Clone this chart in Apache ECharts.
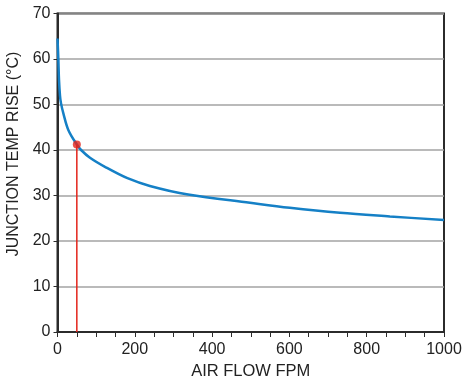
<!DOCTYPE html>
<html>
<head>
<meta charset="utf-8">
<script src="https://cdn.jsdelivr.net/npm/echarts@6/dist/echarts.min.js"></script>
<style>html,body{margin:0;padding:0;background:#fff}#c{width:467px;height:385px}</style>
</head>
<body>
<div id="c"></div>
<script>
// Data
const airFlow = [0, 2.2, 3.9, 6.5, 9, 15, 28, 50, 61, 84, 125, 181, 239, 338, 498, 601, 731, 860, 1000];
const tempRise = [64.5, 60, 55.4, 51.9, 50.3, 48.1, 44.4, 41.2, 40.0, 38.3, 36.2, 33.8, 32.1, 30.2, 28.4, 27.3, 26.2, 25.4, 24.6];
const markerFlow = [50];
const markerRise = [41.2];
const xTickLabels = [0, 200, 400, 600, 800, 1000];
const yTickLabels = [0, 10, 20, 30, 40, 50, 60, 70];
const xName = 'AIR FLOW FPM';
const yName = 'JUNCTION TEMP RISE (°C)';

const font = 'Liberation Sans, Arial, Helvetica, sans-serif';
const chart = echarts.init(document.getElementById('c'), null, {renderer: 'canvas'});
chart.setOption({
  animation: false,
  grid: {left: 57.5, right: 23, top: 13.5, bottom: 53, show: true, borderColor: '#2b2b2b', borderWidth: 2, backgroundColor: 'transparent'},
  graphic: [{
    type: 'text', x: 14, y: 154, rotation: Math.PI / 2,
    style: {text: yName, font: '16px ' + font, fill: '#222', textAlign: 'center', textVerticalAlign: 'middle'}
  }],
  xAxis: {
    type: 'value', min: 0, max: 1000, interval: 50,
    name: xName, nameLocation: 'middle', nameGap: 28,
    nameTextStyle: {fontFamily: font, fontSize: 16.5, color: '#222'},
    axisLine: {show: true, lineStyle: {color: '#2b2b2b', width: 2}},
    axisTick: {show: true, length: 5, lineStyle: {color: '#2b2b2b', width: 1}},
    axisLabel: {
      margin: 10, fontFamily: font, fontSize: 16, color: '#222',
      formatter: v => xTickLabels.indexOf(v) >= 0 ? String(v) : ''
    },
    splitLine: {show: false}
  },
  yAxis: {
    type: 'value', min: 0, max: 70, interval: 10,
    axisLine: {show: true, lineStyle: {color: '#2b2b2b', width: 2}},
    axisTick: {show: true, length: 4, lineStyle: {color: '#2b2b2b', width: 1}},
    axisLabel: {
      margin: 7, fontFamily: font, fontSize: 16, color: '#222',
      formatter: v => yTickLabels.indexOf(v) >= 0 ? String(v) : ''
    },
    splitLine: {show: true, lineStyle: {color: '#a3a3a3', width: 1.5}}
  },
  series: [
    {
      type: 'line', data: airFlow.map((x, i) => [x, tempRise[i]]),
      smooth: 0.35, showSymbol: false,
      lineStyle: {color: '#1580c6', width: 2.5}, z: 3
    },
    {
      type: 'line', data: [[markerFlow[0], 0], [markerFlow[0], markerRise[0]]],
      showSymbol: false, lineStyle: {color: '#e3241b', width: 1.5}, z: 4
    },
    {
      type: 'scatter', data: markerFlow.map((x, i) => [x, markerRise[i]]),
      symbolSize: 8, itemStyle: {color: '#e3241b'}, z: 5
    }
  ]
});
</script>
</body>
</html>
